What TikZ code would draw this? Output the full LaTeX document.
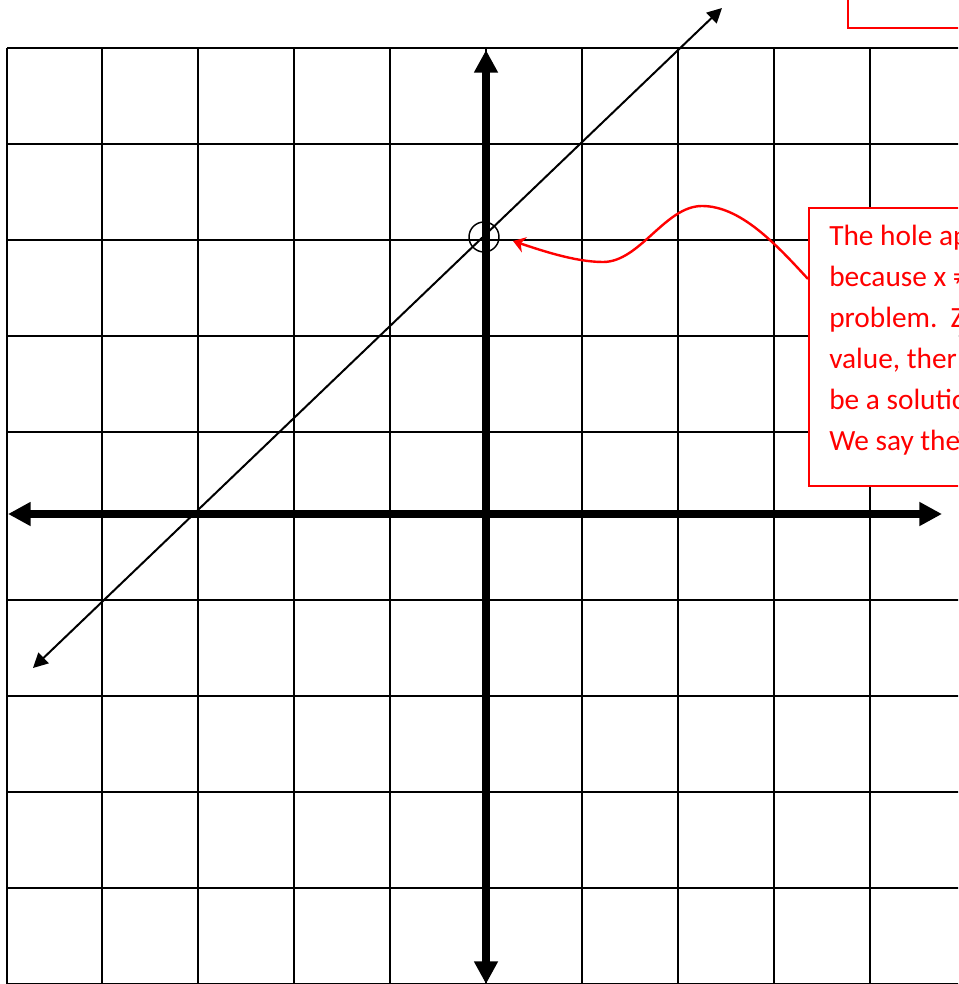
\documentclass[tikz,border=0pt]{standalone}
\usepackage{fontspec}
\setmainfont{Carlito}
\usetikzlibrary{arrows.meta}
\definecolor{notered}{RGB}{255,0,0}
\begin{document}
\begin{tikzpicture}[x=0.75pt,y=-0.75pt,
  gridline/.style={line width=1.4pt, black},
  axisline/.style={line width=6pt, black, {Triangle[length=17pt,width=17pt]}-{Triangle[length=17pt,width=17pt]}},
  graphline/.style={line width=1.5pt, black, {Triangle[length=11pt,width=11pt]}-{Triangle[length=11pt,width=11pt]}},
  notebox/.style={draw=notered, fill=white, line width=1.4pt, rectangle, inner sep=0pt},
  notetext/.style={text=notered, anchor=base west, inner sep=0pt, font=\fontsize{22}{30.75}\selectfont},
  callout/.style={draw=notered, line width=1.8pt, -{Stealth[length=9pt,width=12pt,inset=3pt]}},
  holemark/.style={circle, draw=black, line width=1.1pt, minimum size=22.5pt, inner sep=0pt}
]
\useasboundingbox (0,0) rectangle (958,984);
\clip (0,0) rectangle (958,984);
\fill[white] (0,0) rectangle (958,984);

% grid: vertical lines
\foreach \gx in {7,102,198,294,390,486,582,678,774,870}
  \draw[gridline] (\gx,48) -- (\gx,990);
% grid: horizontal lines
\foreach \gy in {48,144,240,336,432,600,696,792,888,984}
  \draw[gridline] (7,\gy) -- (970,\gy);

% axes
\coordinate (xl) at (8,514);
\coordinate (xr) at (942,514);
\coordinate (yt) at (486,50);
\coordinate (yb) at (486,984);
\draw[axisline] (xl) -- (xr);
\draw[axisline] (yb) -- (yt);

% graph of the line
\coordinate (gl) at (33,668);
\coordinate (gr) at (722,8);
\draw[graphline] (gl) -- (gr);

% hole
\node[holemark] (hole) at (484,237) {};

% upper note box (mostly outside the picture)
\draw[notebox] (848,-20) -- (848,28) -- (990,28);
\node[notetext] (topg) at (921,-6) {g};

% lower note box
\node[notebox, anchor=north west, minimum width=300pt, minimum height=208.5pt] (note) at (808,207) {};
\node[notetext] (l1) at (829,245) {The hole ap};
\node[notetext] (l2) at (829,286) {because x ≠};
\node[notetext] (l3) at (829,327) {problem.\ \ Z};
\node[notetext] (l4) at (829,368) {value, ther};
\node[notetext] (l5) at (829,409) {be a solutio};
\node[notetext] (l6) at (829,450) {We say the};

% callout arrow
\coordinate (cstart) at (808,279);
\coordinate (ctip) at (513,241);
\draw[callout] (cstart) .. controls (775,243) and (740,206) .. (702,206)
  .. controls (665,206) and (640,262) .. (603,262)
  .. controls (575,262) and (540,250) .. (ctip);
\end{tikzpicture}
\end{document}
